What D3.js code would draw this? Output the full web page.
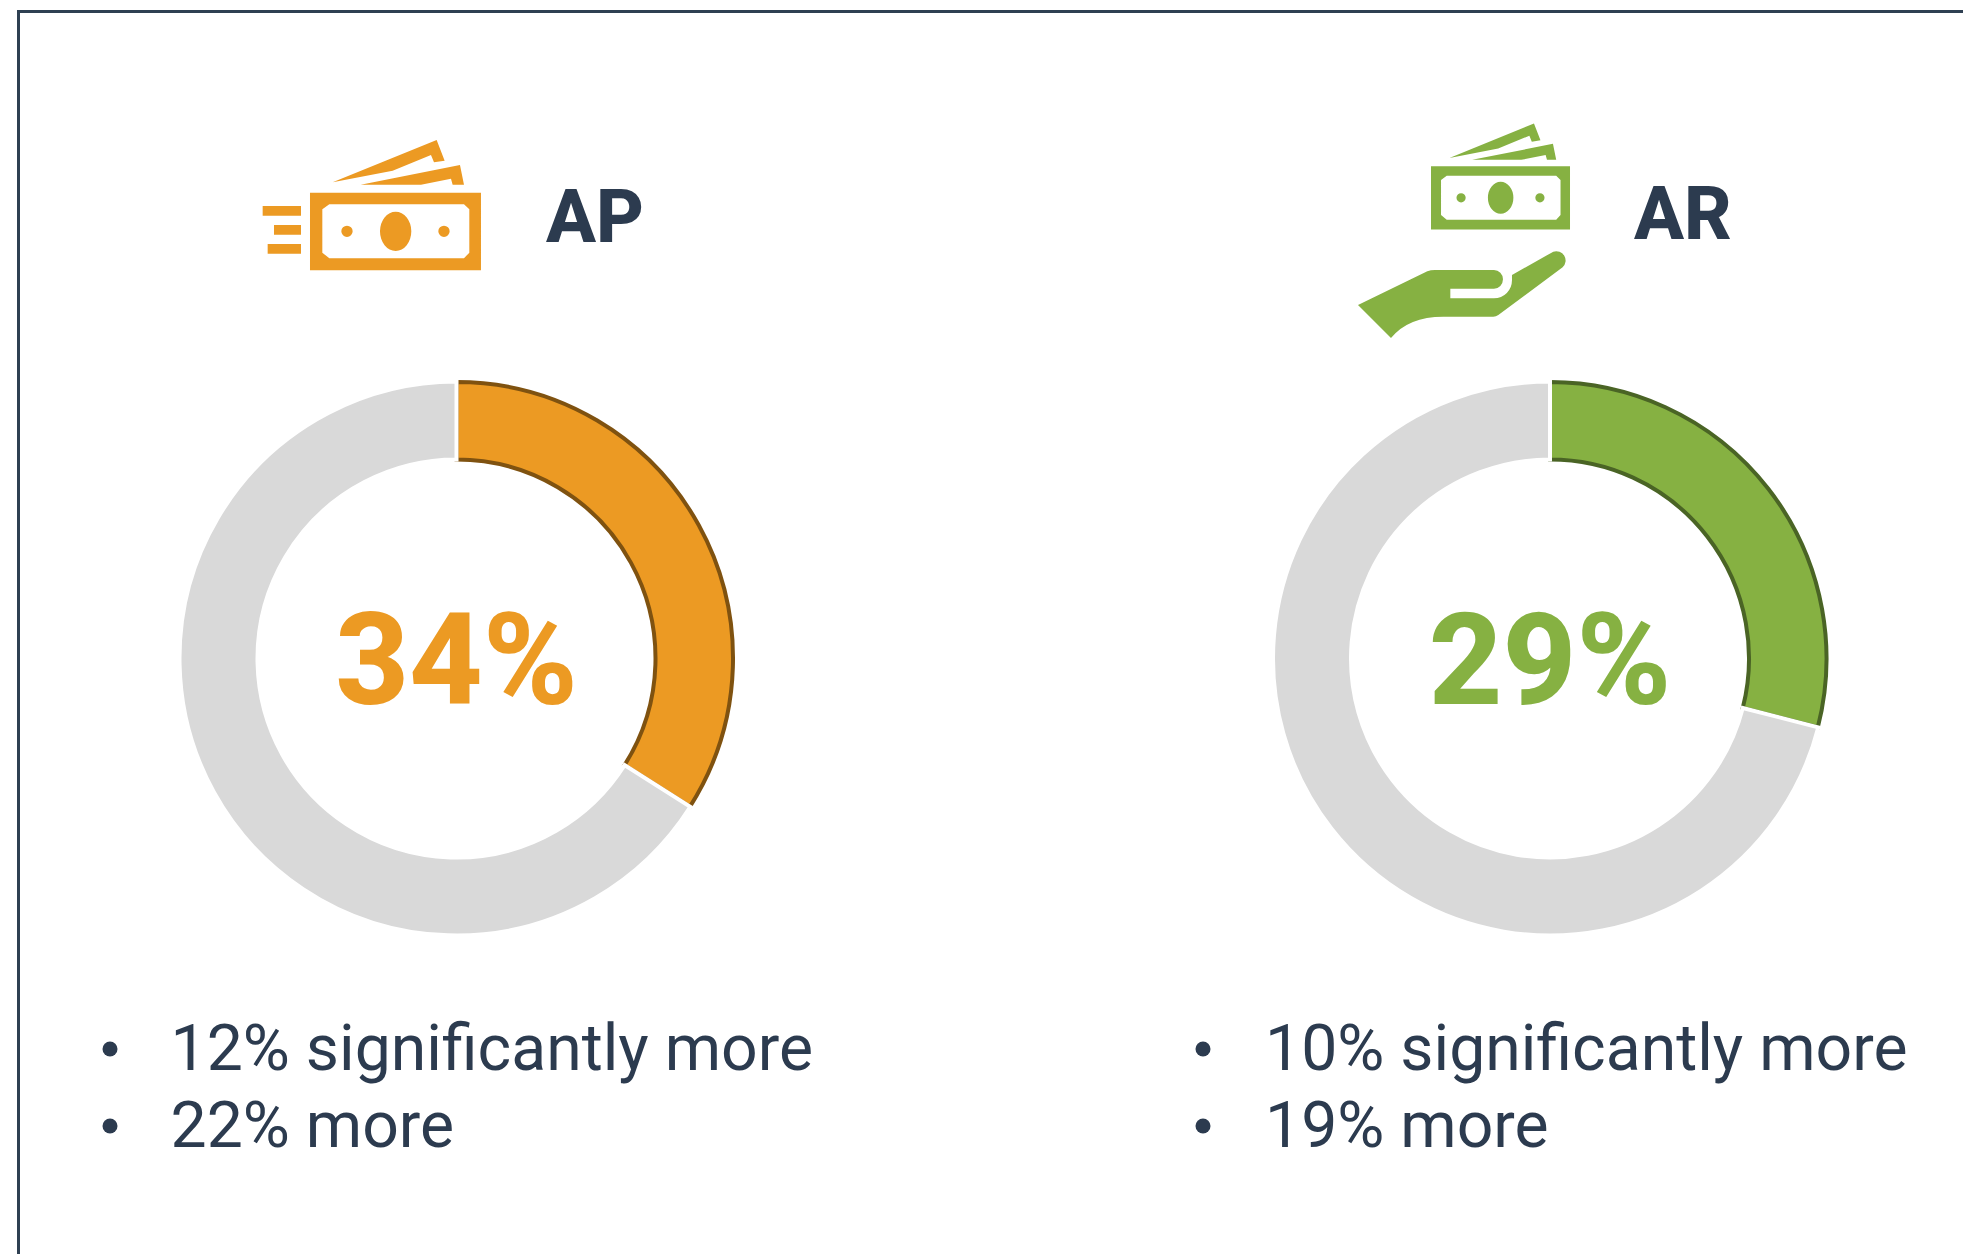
<!DOCTYPE html>
<html>
<head>
<meta charset="utf-8">
<script src="https://cdn.jsdelivr.net/npm/d3@7"></script>
<style>
  html, body { margin: 0; padding: 0; background: #fff; }
  svg { display: block; }
  text { font-family: Roboto, sans-serif; }
</style>
</head>
<body>
<svg id="chart" width="1963" height="1254"></svg>
<script>
const groups = ['AP', 'AR'];
const shares = [34, 29];
const significantlyMore = [12, 10];
const more = [22, 19];
const sliceColors = ['#ec9a23', '#86b142'];
const sliceEdges = ['#7f5210', '#4a6425'];

const restColor = '#d9d9d9';
const inkColor = '#2c3b4f';

const svg = d3.select('#chart');

// frame, open on the right and bottom like the source slide
svg.append('path')
  .attr('d', 'M18.5 1254V11.5H1963')
  .attr('fill', 'none')
  .attr('stroke', '#2f4052')
  .attr('stroke-width', 3);

const centerX = d3.scalePoint().domain(groups).range([456.5, 1550]);
const centerY = 658.5;
const pie = d3.pie().sort(null);
const restArc = d3.arc().innerRadius(199).outerRadius(277);
const sliceArc = d3.arc().innerRadius(199).outerRadius(276.5);

// icon paths are in zoomed-crop units, placed with a transform below
const billPath = 'M210 218H723V451H210ZM268 253H672L688 268V398L672 415H268L247 398V268Z' +
  'M467 275A47 59 0 1 0 467 393A47 59 0 1 0 467 275Z' +
  'M321 317A17 17 0 1 0 321 351A17 17 0 1 0 321 317Z' +
  'M612 317A17 17 0 1 0 612 351A17 17 0 1 0 612 317Z' +
  'M278 187L590 60L614 122L582 127L573 105L458 152Z' +
  'M362 194L660 135L672 194L638 194L633 176L543 194Z';
const speedLines = 'M68 258H183V287H68ZM102 315H183V344H102ZM83 372H183V401H83Z';
const handPath = 'M54 585L262 484Q272 480 285 480H462A27 28 0 0 1 462 536H331V565H462' +
  'A54 54 0 0 0 516 510V495L640 425A28 28 0 0 1 668 472L475 615Q468 620 460 620H310Q205 620 153 684Z';

const apIcon = svg.append('g').attr('transform', 'translate(240,120) scale(0.3333)').attr('fill', sliceColors[0]);
apIcon.append('path').attr('d', billPath).attr('fill-rule', 'evenodd');
apIcon.append('path').attr('d', speedLines);

const arIcon = svg.append('g').attr('transform', 'translate(1340,110) scale(0.3333)').attr('fill', sliceColors[1]);
arIcon.append('path').attr('d', billPath).attr('fill-rule', 'evenodd')
  .attr('transform', 'translate(102.3,-8.2) scale(0.813)');
arIcon.append('path').attr('d', handPath);

const labelX = [546, 1634];
const labelY = [242, 239];
const bulletDotX = [110, 1203];
const bulletTextX = [170.5, 1265];
const bulletY = [1070, 1147];

groups.forEach((name, i) => {
  const arcs = pie([shares[i], 100 - shares[i]]);
  const g = svg.append('g').attr('transform', `translate(${centerX(name)},${centerY})`);

  // slice first, the grey part's white outline cuts its two ends
  g.append('path')
    .attr('d', sliceArc(arcs[0]))
    .attr('fill', sliceColors[i])
    .attr('stroke', sliceEdges[i])
    .attr('stroke-width', 4);
  g.append('path')
    .attr('d', restArc(arcs[1]))
    .attr('fill', restColor)
    .attr('stroke', '#fff')
    .attr('stroke-width', 4);

  g.append('text')
    .attr('text-anchor', 'middle')
    .attr('y', 45)
    .attr('font-size', 128)
    .attr('font-weight', 800)
    .attr('fill', sliceColors[i])
    .text(shares[i] + '%');

  svg.append('text')
    .attr('x', labelX[i])
    .attr('y', labelY[i])
    .attr('font-size', 74)
    .attr('font-weight', 800)
    .attr('fill', inkColor)
    .text(name);

  const lines = [significantlyMore[i] + '% significantly more', more[i] + '% more'];
  lines.forEach((line, j) => {
    svg.append('circle')
      .attr('cx', bulletDotX[i])
      .attr('cy', bulletY[j] - 21)
      .attr('r', 7.5)
      .attr('fill', inkColor);
    svg.append('text')
      .attr('x', bulletTextX[i])
      .attr('y', bulletY[j])
      .attr('font-size', 64.3)
      .attr('fill', inkColor)
      .text(line);
  });
});
</script>
</body>
</html>
